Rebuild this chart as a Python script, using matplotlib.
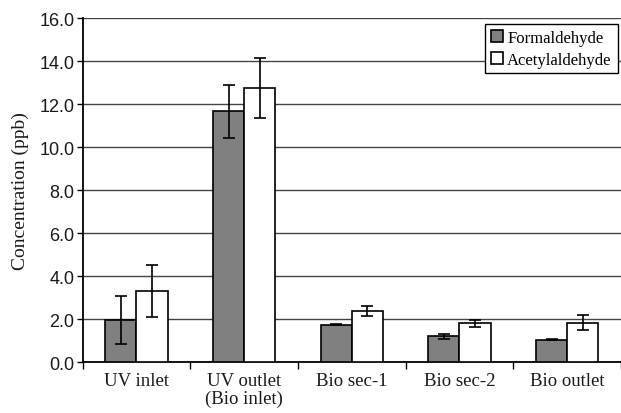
import numpy as np
import matplotlib.pyplot as plt

categories = ["UV inlet", "UV outlet\n(Bio inlet)", "Bio sec-1", "Bio sec-2", "Bio outlet"]
formaldehyde = [1.97, 11.66, 1.74, 1.19, 1.05]
formaldehyde_err = [1.11, 1.23, 0.03, 0.12, 0.03]
acetaldehyde = [3.30, 12.74, 2.37, 1.80, 1.83]
acetaldehyde_err = [1.21, 1.38, 0.22, 0.17, 0.36]
yticks = [0, 2, 4, 6, 8, 10, 12, 14, 16]

serif = "Liberation Serif"
sans = "Liberation Sans"

fig = plt.figure(figsize=(6.21, 4.14), dpi=100)
ax = fig.add_axes([0.133, 0.123, 0.867, 0.831])

x = np.arange(len(categories))
w = 0.29
err_kw = dict(ecolor="black", elinewidth=1.2, capsize=4, capthick=1.2)
ax.bar(x - w / 2, formaldehyde, w, yerr=formaldehyde_err, color="#808080",
       edgecolor="black", linewidth=1.2, error_kw=err_kw, label="Formaldehyde", zorder=3)
ax.bar(x + w / 2, acetaldehyde, w, yerr=acetaldehyde_err, color="white",
       edgecolor="black", linewidth=1.2, error_kw=err_kw, label="Acetylaldehyde", zorder=3)

ax.set_xlim(-0.5, len(categories) - 0.5)
ax.set_ylim(0, 16)
ax.set_yticks(yticks)
ax.set_yticklabels([f"{v:.1f}" for v in yticks], fontfamily=sans, fontsize=13, color="#1a1a1a")
ax.yaxis.grid(True, color="#444444", linewidth=1.0, zorder=0)
ax.set_axisbelow(True)

# category labels between boundary ticks
ax.set_xticks(np.arange(len(categories) + 1) - 0.5)
ax.set_xticklabels([])
ax.set_xticks(x, minor=True)
ax.set_xticklabels(categories, minor=True, fontfamily=serif, fontsize=13.5,
                   color="#1a1a1a", linespacing=1.1)
ax.tick_params(axis="x", which="minor", length=0, pad=7)
ax.tick_params(axis="x", which="major", length=5, width=1, direction="out")
ax.tick_params(axis="y", length=4, width=1, direction="out", pad=2)

ax.set_ylabel("Concentration (ppb)", fontfamily=serif, fontsize=14, color="#1a1a1a", labelpad=7)

for s in ["top", "right"]:
    ax.spines[s].set_visible(False)
for s in ["left", "bottom"]:
    ax.spines[s].set_linewidth(1.3)

leg = ax.legend(loc="upper right", bbox_to_anchor=(0.9935, 0.983), prop={"family": serif, "size": 12},
                frameon=True, fancybox=False, edgecolor="black", framealpha=1,
                handlelength=0.75, handleheight=0.75, handletextpad=0.25,
                borderpad=0.35, labelspacing=0.35, borderaxespad=0)
leg.get_frame().set_linewidth(1.0)

fig.savefig("out.png", dpi=100)
